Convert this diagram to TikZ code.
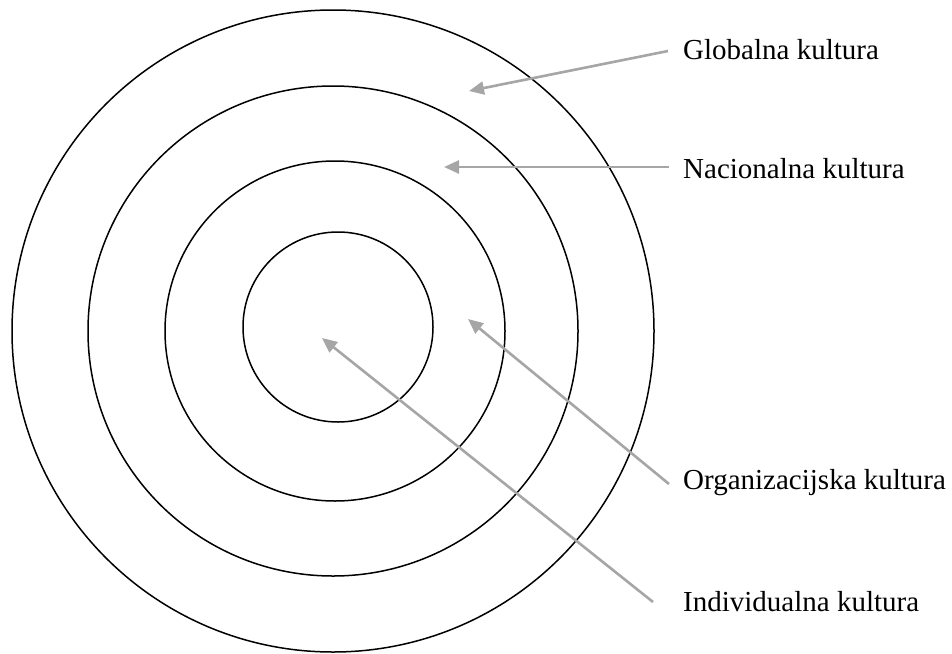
\documentclass[tikz,border=0pt]{standalone}
\usepackage{fontspec}
\setmainfont{Liberation Serif}
\usetikzlibrary{arrows.meta}
\definecolor{arrowgray}{HTML}{A6A6A6}
\tikzset{
  ring/.style={circle, draw=black, line width=1.5pt, inner sep=0pt},
  lbl/.style={anchor=west, inner sep=3pt, font=\fontsize{29}{32}\selectfont},
  pointer/.style={draw=arrowgray, line width=2.6pt, -{Triangle[length=15pt,width=13pt]}}
}
\begin{document}
\begin{tikzpicture}[x=1pt,y=-1pt]
\useasboundingbox (0,0) rectangle (952,653);
\node[ring, minimum size=642pt] (c1) at (333,331) {};
\node[ring, minimum size=490pt] (c2) at (333,331) {};
\node[ring, minimum size=340pt] (c3) at (335,331) {};
\node[ring, minimum size=190pt] (c4) at (338,327) {};
\coordinate (tg) at (469,91);
\coordinate (tn) at (444,167);
\coordinate (to) at (468,319);
\coordinate (ti) at (322,338);
\node[lbl] (lg) at (680,50) {Globalna kultura};
\node[lbl] (ln) at (680,169) {Nacionalna kultura};
\node[lbl] (lo) at (680,483) {Organizacijska kultura};
\node[lbl] (li) at (680,602) {Individualna kultura};
\draw[pointer] ([xshift=-12pt,yshift=-1pt]lg.west) -- (tg);
\draw[pointer] ([xshift=-11pt,yshift=2pt]ln.west) -- (tn);
\draw[pointer] ([xshift=-11pt,yshift=-1pt]lo.west) -- (to);
\draw[pointer] ([xshift=-27pt]li.west) -- (ti);
\end{tikzpicture}
\end{document}
